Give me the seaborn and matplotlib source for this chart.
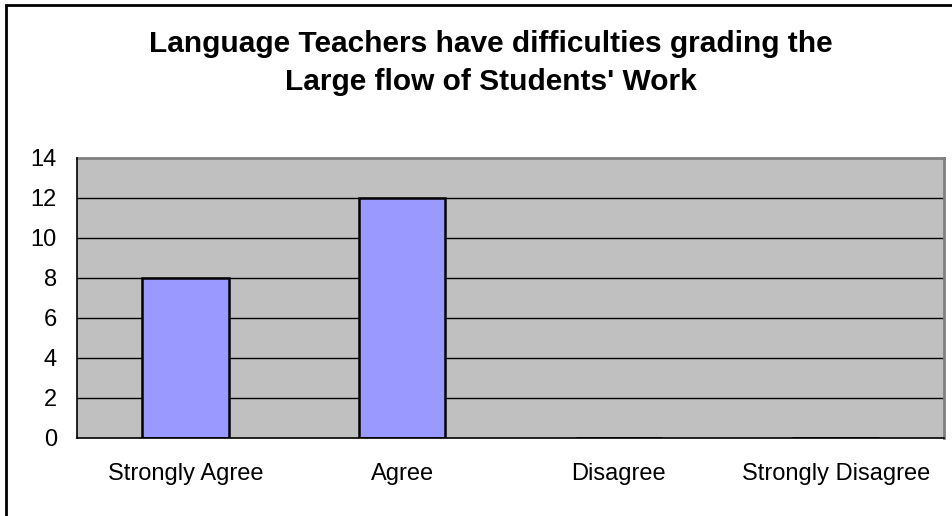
import matplotlib
matplotlib.use("Agg")
import matplotlib.pyplot as plt
import seaborn as sns
import pandas as pd
from matplotlib.patches import Rectangle

categories = ["Strongly Agree", "Agree", "Disagree", "Strongly Disagree"]
values = [8, 12, 0, 0]
yticks = [0, 2, 4, 6, 8, 10, 12, 14]
title = "Language Teachers have difficulties grading the\nLarge flow of Students' Work"

sns.set_theme(style="white")
plt.rcParams['font.family'] = ['Liberation Sans', 'DejaVu Sans']

df = pd.DataFrame({"cat": categories, "val": values})

fig = plt.figure(figsize=(9.52, 5.16), dpi=100)
ax = fig.add_axes([77/952, 1-438/516, 867/952, 280/516])
ax.set_facecolor("#C0C0C0")

sns.barplot(data=df, x="cat", y="val", ax=ax, color="#9999FF", width=0.4,
            edgecolor="black", linewidth=1.8, saturation=1, zorder=3)

ax.set_ylim(0, 14)
ax.set_xlim(-0.5, 3.5)
ax.set_yticks(yticks)
ax.set_yticklabels([str(v) for v in yticks], fontsize=17)
for v in yticks[1:-1]:
    ax.axhline(v, color="black", lw=1, zorder=1)

ax.set_xticks([-0.5, 0.5, 1.5, 2.5, 3.5])
ax.set_xticklabels([])
ax.set_xticks(range(4), minor=True)
ax.set_xticklabels(categories, minor=True, fontsize=17)
ax.tick_params(axis="x", which="minor", length=0, pad=18)
ax.tick_params(axis="x", which="major", length=6, width=1, color="black", direction="out")
ax.tick_params(axis="y", length=6, width=1, color="black", direction="out", pad=8.5)
ax.tick_params(axis="both", which="both", labelcolor="black")
ax.set_xlabel("")
ax.set_ylabel("")

for s in ["left", "bottom"]:
    ax.spines[s].set_color("black")
    ax.spines[s].set_linewidth(1.2)
    ax.spines[s].set_zorder(5)
for s in ["top", "right"]:
    ax.spines[s].set_color("#808080")
    ax.spines[s].set_linewidth(2)

fig.text(491/952, 1-63/516, title, ha="center", va="center", fontsize=21.5,
         fontweight="bold", linespacing=1.5, color="black")

fig.patches.append(Rectangle((6/952, -0.1), 1.2, 1-5/516+0.1, transform=fig.transFigure,
                             fill=False, edgecolor="black", lw=2, zorder=10))

fig.savefig("out.png", dpi=100)
